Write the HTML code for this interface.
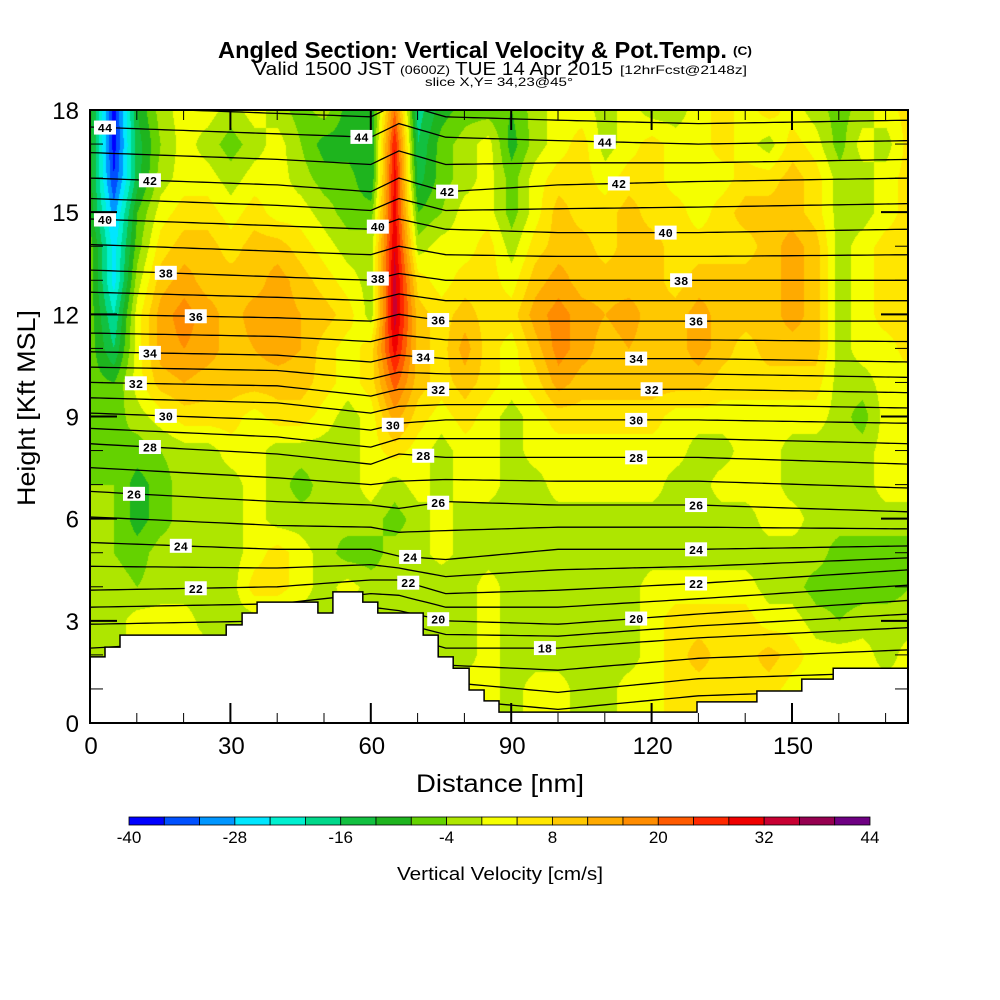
<!DOCTYPE html>
<html><head><meta charset="utf-8">
<style>
html,body{margin:0;padding:0;background:#fff;}
#wrap{position:relative;width:1000px;height:1000px;overflow:hidden;}
#field{position:absolute;left:90px;top:110px;}
svg{position:absolute;left:0;top:0;}
text{font-family:"Liberation Sans",sans-serif;}
</style></head>
<body>
<div id="wrap">
<canvas id="field" width="818" height="613"></canvas>
<svg id="svg" width="1000" height="1000" xmlns="http://www.w3.org/2000/svg">
<g>
<text x="218" y="58" font-size="23" font-weight="bold" textLength="509" lengthAdjust="spacingAndGlyphs">Angled Section: Vertical Velocity &amp; Pot.Temp.</text>
<text x="733" y="55" font-size="12" font-weight="bold" textLength="19" lengthAdjust="spacingAndGlyphs">(C)</text>
</g>
<g>
<text x="253" y="75" font-size="18" textLength="142" lengthAdjust="spacingAndGlyphs">Valid 1500 JST</text>
<text x="400" y="74" font-size="12" textLength="50" lengthAdjust="spacingAndGlyphs">(0600Z)</text>
<text x="455" y="75" font-size="18" textLength="158" lengthAdjust="spacingAndGlyphs">TUE 14 Apr 2015</text>
<text x="620" y="74" font-size="12" textLength="127" lengthAdjust="spacingAndGlyphs">[12hrFcst@2148z]</text>
<text x="425" y="86" font-size="12" textLength="148" lengthAdjust="spacingAndGlyphs">slice X,Y= 34,23@45°</text>
</g>
<g id="contours"></g>
<g id="terrain"></g>
<g id="clabels"></g>
<rect x="90" y="110" width="818" height="613" fill="none" stroke="#000" stroke-width="2"/>
<g id="ticks"></g>
<g id="xlabels"></g>
<g id="ylabels"></g>
<text x="500" y="792" font-size="25" text-anchor="middle" textLength="168" lengthAdjust="spacingAndGlyphs">Distance [nm]</text>
<text transform="translate(35,408) rotate(-90)" font-size="25" text-anchor="middle" textLength="196" lengthAdjust="spacingAndGlyphs">Height [Kft MSL]</text>
<g id="cbar"></g>
<text x="500" y="880" font-size="18" text-anchor="middle" textLength="206" lengthAdjust="spacingAndGlyphs">Vertical Velocity [cm/s]</text>
</svg>
</div>
<script>
// ---- data ----
const xNm = [0,5,10,15,20,25,30,35,40,45,50,55,60,65,70,75,80,85,90,95,100,105,110,115,120,125,130,135,140,145,150,155,160,165,170,175];
const w18 = [-10,-38,-12,-2,2,2,-2,2,-2,-6,-2,-10,-12,20,-18,-10,-6,-6,-8,-2,2,2,-2,2,-2,-2,2,6,2,6,2,-2,-6,-2,2,6];
const w17 = [-10,-38,-14,-4,2,-2,-6,-2,2,-4,-10,-10,-12,28,-16,-6,-2,2,-10,-2,2,6,-2,2,6,2,2,6,2,-2,6,2,-6,2,-2,6];
const w16 = [-10,-36,-14,-2,2,2,-2,2,2,-2,-6,-6,-12,30,-14,-6,-2,2,-6,2,6,6,2,6,6,2,2,2,6,6,10,6,-2,-2,2,6];
const w15 = [-10,-30,-8,2,6,6,2,6,2,2,-2,-6,-6,30,-8,-4,2,2,-6,2,10,6,6,10,6,6,2,6,10,10,10,6,-2,-2,2,6];
const w14 = [-6,-26,-6,6,10,10,6,10,10,6,2,-2,-2,32,-2,2,2,6,-2,6,10,10,6,10,10,6,6,6,6,10,14,10,-2,2,6,6];
const w13 = [-6,-26,-2,10,14,10,10,10,14,10,6,2,-2,34,6,2,6,6,2,10,14,10,10,10,10,6,10,10,10,10,14,10,-2,2,6,6];
const w12 = [-6,-20,2,14,18,14,10,14,14,12,10,6,-2,34,10,6,10,6,6,14,18,14,12,14,10,10,14,10,10,10,14,10,-2,2,6,6];
const w11 = [-6,-16,2,14,16,14,10,12,14,12,6,2,6,30,10,6,14,6,2,10,18,14,10,12,10,10,14,10,6,10,10,10,-2,2,2,6];
const w10 = [-6,-8,2,10,12,10,10,10,10,10,6,2,6,22,10,6,10,6,2,6,14,10,10,10,10,10,10,6,6,6,6,6,-2,-2,2,2];
const w9  = [-8,-6,-2,2,6,6,6,2,6,6,2,-2,2,14,6,2,6,2,-2,2,6,6,6,6,6,2,2,2,2,2,2,2,-2,-6,2,2];
const w8  = [-6,-4,-6,-4,-2,-2,2,2,-2,-2,-2,-2,2,6,2,-2,2,2,-2,2,2,2,2,2,2,2,-2,-2,2,2,-2,-2,-2,-2,2,2];
const w7  = [-4,-4,-10,-6,-2,-2,-2,2,-2,-6,-2,-2,2,-2,2,-2,2,2,-2,-2,2,2,2,2,2,-2,-2,2,2,2,-2,-2,-2,-2,2,2];
const w6  = [-2,-4,-10,-6,-2,-2,-2,2,-2,-2,-4,-2,-2,-6,-2,2,-2,-2,-2,-2,-2,-2,-2,-2,-2,-2,-2,-2,-2,2,2,-2,-2,-2,-2,-2];
const w5  = [-2,-4,-6,-2,-2,-2,-2,2,6,2,-2,-6,-6,-2,-2,2,-2,-2,-2,-2,-2,-2,-2,-2,-2,-2,-2,-2,-2,-2,-2,-2,-6,-6,-6,-6];
const w4  = [-2,-2,-4,-2,-2,-2,-2,6,6,2,-2,2,-2,-2,-2,-4,-2,2,-2,-2,-2,-2,-2,-2,2,2,2,2,2,-2,-2,-6,-6,-6,-6,-4];
const w3  = [-2,-2,2,2,2,-2,-2,-2,-2,-2,-2,-2,-2,-2,-2,-2,-2,2,-2,-2,-2,-2,-2,-2,2,6,6,6,6,2,2,-2,-4,-2,-2,-2];
const w2  = [-2,-2,2,2,2,2,-2,-2,-2,-2,-2,-2,-2,-2,-2,-2,-2,2,-2,-2,-2,-2,-2,-2,2,6,10,6,6,10,6,2,2,2,-2,2];
const w1  = [-2,-2,-2,-2,-2,-2,-2,-2,-2,-2,-2,-2,-2,-2,-2,-2,2,2,-2,2,2,-2,-2,2,2,6,6,6,6,6,2,2,2,2,2,2];
const w0  = [-2,-2,-2,-2,-2,-2,-2,-2,-2,-2,-2,-2,-2,-2,-2,-2,2,2,-2,2,2,-2,-2,2,2,6,6,6,6,6,2,2,2,2,2,2];
const velRows = [w0,w1,w2,w3,w4,w5,w6,w7,w8,w9,w10,w11,w12,w13,w14,w15,w16,w17,w18]; // index = kft

const binColors = ["#0000ff","#0050ff","#0096ff","#00e6ff","#00f0d0","#00d88a","#12c040","#1eb41e","#64d200","#aee600","#f5ff00","#ffe600","#ffc800","#ffaa00","#ff8c00","#ff5a00","#ff2800","#f00000","#c80032","#960050","#6e0082"];
const cbarTicks = [-40,-28,-16,-4,8,20,32,44];

// potential temperature (C) isolines: heights (kft) at anchor distances
const thetaAnchors = [0,40,60,66,76,100,130,175];
const thetaLevels = [16,18,20,22,24,26,28,30,32,34,36,38,40,42,44];
const th16 = [0.5,1.0,1.5,1.5,1.2,0.9,1.3,1.5];
const th18 = [1.5,2.0,2.6,2.6,2.2,2.2,2.5,2.8];
const th20 = [2.9,3.0,3.4,3.3,3.0,2.9,3.2,3.6];
const th22 = [3.9,4.0,4.2,4.2,3.8,3.9,4.1,4.5];
const th24 = [5.3,5.1,5.1,4.9,4.8,5.1,5.1,5.2];
const th26 = [6.8,6.5,6.4,6.3,6.5,6.4,6.4,6.2];
const th28 = [8.2,7.9,7.6,7.9,7.8,7.8,7.8,7.6];
const th30 = [9.1,8.9,8.6,8.8,8.9,8.9,8.9,8.8];
const th32 = [10.0,9.9,9.6,9.8,9.8,9.8,9.8,9.7];
const th34 = [10.9,10.8,10.6,10.8,10.7,10.7,10.7,10.6];
const th36 = [12.0,11.9,11.8,12.0,11.8,11.8,11.8,11.8];
const th38 = [13.3,13.1,13.0,13.2,13.0,13.0,13.0,13.0];
const th40 = [14.8,14.6,14.5,14.8,14.5,14.4,14.4,14.5];
const th42 = [16.0,15.8,15.6,16.0,15.6,15.8,15.9,16.0];
const th44 = [17.5,17.3,17.2,17.6,17.2,17.1,17.0,17.1];
const thetaHeights = [th16,th18,th20,th22,th24,th26,th28,th30,th32,th34,th36,th38,th40,th42,th44];

const labelTheta = [44,42,40,38,36,34,32,30,28,26,24,22, 44,40,38,30,42,36,34,32,28,26,24,22,20,18, 44,42,40,38,36,34,32,30,28,26,24,22,20];
const labelNm    = [3.2,12.8,3.2,16.2,22.6,12.8,9.8,16.2,12.8,9.4,19.4,22.6, 58,61.5,61.5,64.7,76.3,74.4,71.2,74.4,71.2,74.4,68.4,68,74.4,97.2, 110,113,123,126.3,129.5,116.7,120,116.7,116.7,129.5,129.5,129.5,116.7];

const terrainStartNm = [0,3.2,6.4,29.1,32.5,35.7,48.7,51.9,58.3,61.5,71.2,74.4,77.6,81.0,84.2,87.4,129.7,142.5,152.1,158.8];
const terrainKft     = [1.94,2.23,2.58,2.88,3.23,3.55,3.23,3.85,3.55,3.23,2.58,1.94,1.61,0.97,0.65,0.32,0.62,0.94,1.29,1.61];

const xTicks = [0,30,60,90,120,150];
const yTicks = [0,3,6,9,12,15,18];

// ---- scales ----
const X0=90, X1=908, Y0=723, Y1=110, PXNM=4.68, PXK=(723-110)/18;
const sx = nm => X0 + nm*PXNM;
const sy = k => Y0 - k*PXK;
const NS='http://www.w3.org/2000/svg';
function el(tag, attrs, parent){const e=document.createElementNS(NS,tag);for(const k in attrs)e.setAttribute(k,attrs[k]);parent.appendChild(e);return e;}
function binOf(v){let i=Math.floor((v+40)/4);return Math.max(0,Math.min(20,i));}

// ---- field ----
(function(){
  const cv=document.getElementById('field');const ctx=cv.getContext('2d');
  const W=cv.width,H=cv.height;const img=ctx.createImageData(W,H);
  const rgb=binColors.map(c=>[parseInt(c.substr(1,2),16),parseInt(c.substr(3,2),16),parseInt(c.substr(5,2),16)]);
  const dx=xNm[1]-xNm[0];
  for(let py=0;py<H;py++){
    let k=(H-py)/PXK; if(k<0)k=0; if(k>18)k=18;
    let r0=Math.min(17,Math.floor(k)); const fy=k-r0;
    for(let px=0;px<W;px++){
      let nm=px/PXNM; let c0=Math.min(xNm.length-2,Math.floor(nm/dx)); let fx=Math.min(1,(nm-xNm[c0])/dx);
      const a=velRows[r0][c0],b=velRows[r0][c0+1],c=velRows[r0+1][c0],d=velRows[r0+1][c0+1];
      const v=(a*(1-fx)+b*fx)*(1-fy)+(c*(1-fx)+d*fx)*fy;
      const col=rgb[binOf(v)];const i=(py*W+px)*4;
      img.data[i]=col[0];img.data[i+1]=col[1];img.data[i+2]=col[2];img.data[i+3]=255;
    }
  }
  ctx.putImageData(img,0,0);
})();

// ---- contours ----
function thetaHeightAt(th,nm){
  let idx=(th-16)/2; let lo=Math.floor(idx), f=idx-lo;
  const h=(arr)=>{let j=0;while(j<thetaAnchors.length-2&&nm>thetaAnchors[j+1])j++;const t=(nm-thetaAnchors[j])/(thetaAnchors[j+1]-thetaAnchors[j]);return arr[j]+(arr[j+1]-arr[j])*t;};
  if(lo>=thetaHeights.length-1){return h(thetaHeights[thetaHeights.length-1])+(idx-(thetaHeights.length-1))*1.2;}
  if(lo<0){return h(thetaHeights[0])+idx*1.0;}
  return h(thetaHeights[lo])*(1-f)+h(thetaHeights[lo+1])*f;
}
const cg=document.getElementById('contours');
const clip=el('clipPath',{id:'pclip'},el('defs',{},document.getElementById('svg')));
el('rect',{x:X0,y:Y1,width:X1-X0,height:Y0-Y1},clip);
cg.setAttribute('clip-path','url(#pclip)');
for(let th=15;th<=45;th++){
  let pts=[];for(let nm=0;nm<=176;nm+=2){pts.push(sx(nm).toFixed(1)+','+sy(thetaHeightAt(th,nm)).toFixed(1));}
  const p=el('polyline',{points:pts.join(' '),fill:'none',stroke:'#000','stroke-width':1.3},cg);
  
  
}

// ---- terrain ----
(function(){
  const tg=document.getElementById('terrain');
  let pts=[sx(0)+','+sy(0)];
  for(let i=0;i<terrainStartNm.length;i++){
    const x0=sx(terrainStartNm[i]); const x1=i+1<terrainStartNm.length?sx(terrainStartNm[i+1]):X1;
    const y=sy(terrainKft[i]); pts.push(x0.toFixed(1)+','+y.toFixed(1)); pts.push(x1.toFixed(1)+','+y.toFixed(1));
  }
  pts.push(X1+','+Y0);
  const p=el('polygon',{points:pts.join(' '),fill:'#fff',stroke:'#000','stroke-width':1.5},tg);
  
  
})();

// ---- contour labels ----
(function(){
  const lg=document.getElementById('clabels');
  for(let i=0;i<labelTheta.length;i++){
    const x=sx(labelNm[i]), y=sy(thetaHeightAt(labelTheta[i],labelNm[i]));
    const g=el('g',{},lg);
    
    
    el('rect',{x:x-11,y:y-7,width:22,height:14,fill:'#fff'},g);
    const t=el('text',{x:x,y:y+4.5,'font-size':12,'font-weight':'bold','text-anchor':'middle',style:'font-family:"Liberation Mono",monospace'},g);
    t.textContent=labelTheta[i];
  }
})();

// ---- ticks ----
(function(){
  const tg=document.getElementById('ticks');
  for(let nm=10;nm<175;nm+=10){
    const major=nm%30===0;const L=major?20:10;const x=sx(nm);
    el('line',{x1:x,y1:Y0,x2:x,y2:Y0-L,stroke:'#000','stroke-width':major?2:1},tg);
    el('line',{x1:x,y1:Y1,x2:x,y2:Y1+L,stroke:'#000','stroke-width':major?2:1},tg);
  }
  for(let k=1;k<18;k++){
    const major=k%3===0;const L=major?27:13;const y=sy(k);
    el('line',{x1:X0,y1:y,x2:X0+L,y2:y,stroke:'#000','stroke-width':major?2:1},tg);
    el('line',{x1:X1,y1:y,x2:X1-L,y2:y,stroke:'#000','stroke-width':major?2:1},tg);
  }
  const xl=document.getElementById('xlabels');
  xTicks.forEach(v=>{const t=el('text',{x:sx(v)+1,y:754,'font-size':24,'text-anchor':'middle'},xl);t.textContent=v;
    
    });
  const yl=document.getElementById('ylabels');
  yTicks.forEach(v=>{const t=el('text',{x:79,y:sy(v)+9,'font-size':24,'text-anchor':'end'},yl);t.textContent=v;
    
    });
})();

// ---- colorbar ----
(function(){
  const cb=document.getElementById('cbar');const x0=129,x1=870,w=(x1-x0)/binColors.length;
  binColors.forEach((c,i)=>{const r=el('rect',{x:x0+i*w,y:817,width:w,height:8,fill:c,stroke:'#000','stroke-width':0.8},cb);
    
    });
  cbarTicks.forEach(v=>{const x=x0+(v+40)/4*w;const t=el('text',{x:x,y:843,'font-size':17,'text-anchor':'middle'},cb);t.textContent=v;
    
    });
})();
</script>
</body></html>
